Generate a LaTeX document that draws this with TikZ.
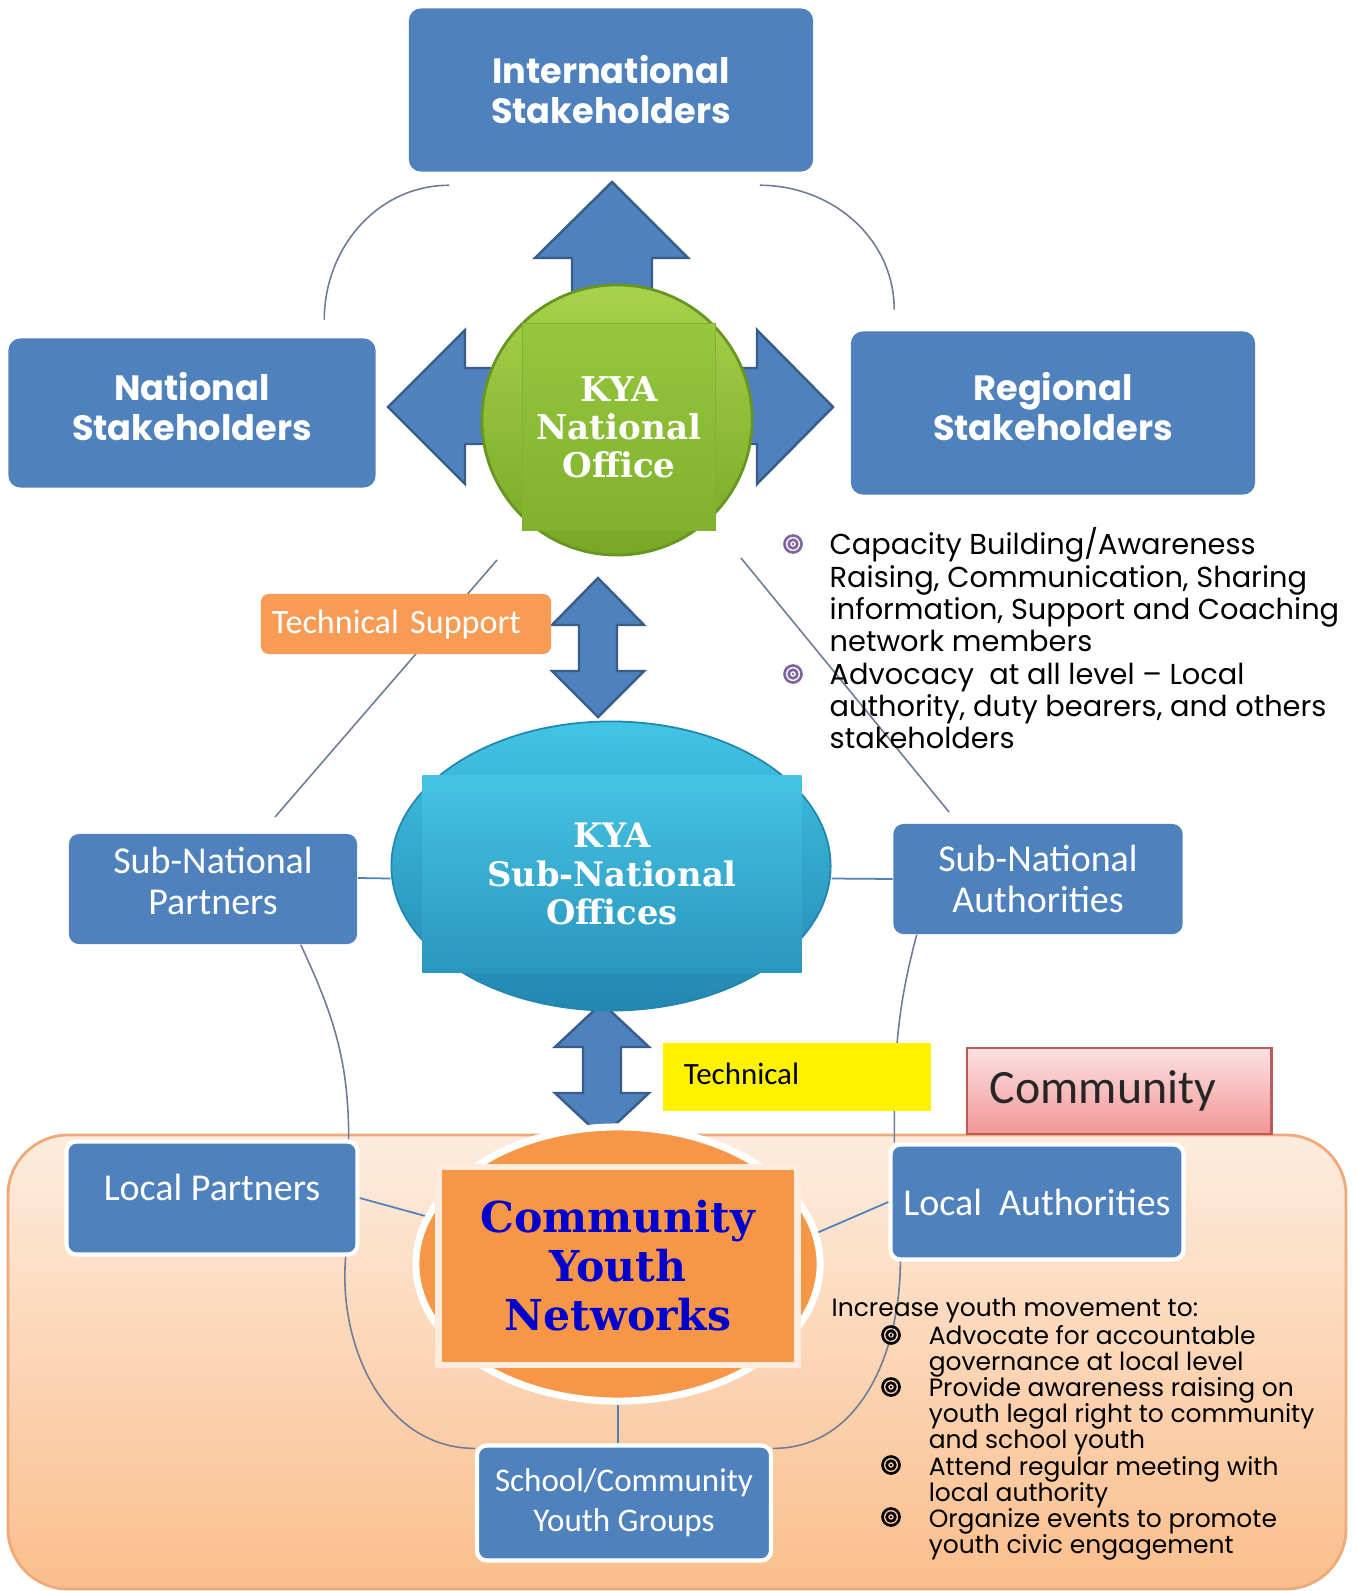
\documentclass[tikz,border=0pt]{standalone}
\usepackage{fontspec}
\newfontfamily\gothic{Poppins}
\newfontfamily\calib{Carlito}
\newfontfamily\kyaserif{DejaVu Serif}
\usepackage{tikz}
\usetikzlibrary{shapes.geometric,positioning}
\definecolor{boxblue}{RGB}{79,129,189}
\definecolor{arrowedge}{RGB}{56,93,138}
\definecolor{arcgrey}{RGB}{110,125,150}
\definecolor{leaflight}{RGB}{168,210,75}
\definecolor{leafdark}{RGB}{118,168,38}
\definecolor{leafedge}{RGB}{105,150,35}
\definecolor{squarelight}{RGB}{150,198,62}
\definecolor{squaredark}{RGB}{128,178,45}
\definecolor{teallight}{RGB}{66,196,228}
\definecolor{tealdark}{RGB}{34,135,176}
\definecolor{tealrecttop}{RGB}{70,195,226}
\definecolor{tealrectbot}{RGB}{42,150,190}
\definecolor{cynorange}{RGB}{247,150,70}
\definecolor{cynrim}{RGB}{253,236,222}
\definecolor{cynblue}{RGB}{0,0,204}
\definecolor{supportorange}{RGB}{247,155,85}
\definecolor{paneltop}{RGB}{253,236,222}
\definecolor{panelbot}{RGB}{250,190,140}
\definecolor{paneledge}{RGB}{238,170,120}
\definecolor{pinklight}{RGB}{252,226,226}
\definecolor{pinkdeep}{RGB}{242,150,150}
\definecolor{pinkedge}{RGB}{192,90,90}
\definecolor{bulletpurple}{RGB}{128,100,162}
\tikzstyle{stake} = [rectangle, rounded corners=0.12cm, fill=boxblue, text=white, align=center, font=\gothic\bfseries\fontsize{10}{11.4}\selectfont]
\tikzstyle{partner} = [rectangle, rounded corners=0.1cm, fill=boxblue, text=white, align=center, font=\calib\fontsize{10.8}{11.6}\selectfont]
\tikzstyle{blockarrow} = [fill=boxblue, draw=arrowedge, line width=0.7pt, line join=miter]
\tikzstyle{cycleline} = [draw=arcgrey, line width=0.45pt]
\tikzstyle{spoke} = [draw=boxblue, line width=0.5pt]
% ring bullet
\newcommand{\tgtbullet}[3]{%
  \draw[#3, line width=0.75pt] (#1,#2) circle (0.085cm) (#1,#2) circle (0.043cm);
  \fill[#3] (#1,#2) circle (0.014cm);}

\begin{document}
\begin{tikzpicture}[x=0.01cm, y=-0.01cm]
		\useasboundingbox (0,0) rectangle (1356,1591);
		\fill[white] (0,0) rectangle (1356,1591);
		\coordinate (intl) at (611,90);
		\coordinate (natl) at (192,413);
		\coordinate (regl) at (1053,413);
		\coordinate (natoff) at (617,420);
		\coordinate (natsq) at (619,427);
		\coordinate (techsup) at (406,624);
		\coordinate (subell) at (611,866);
		\coordinate (subrect) at (612,874);
		\coordinate (snpart) at (213,889);
		\coordinate (snauth) at (1038,879);
		\coordinate (techbox) at (797,1077);
		\coordinate (commbox) at (1119,1091);
		\coordinate (cynell) at (618,1264);
		\coordinate (cynrect) at (618,1266);
		\coordinate (locpart) at (212,1198);
		\coordinate (locauth) at (1037,1202);
		\coordinate (school) at (624,1503);
		\coordinate (diagl1) at (497,560);
		\coordinate (diagl2) at (275,817);
		\coordinate (diagr1) at (741,558);
		\coordinate (diagr2) at (949,812);
		% Community area
		\draw[rounded corners=0.6cm, top color=paneltop, bottom color=panelbot, draw=paneledge, line width=0.8pt] (8,1135) rectangle (1346,1589);
		% Diagonals
		\draw[cycleline] (diagl1) -- (diagl2);
		\draw[cycleline] (diagr1) -- (diagr2);
		% Block arrows round the national office
		\draw[blockarrow] (572,420) -- (572,258) -- (535,258) -- (612,182) -- (688,258) -- (652,258) -- (652,420) -- cycle;
		\draw[blockarrow] (617,368) -- (465,368) -- (465,330) -- (388,407) -- (465,484) -- (465,444) -- (617,444) -- cycle;
		\draw[blockarrow] (617,368) -- (757,368) -- (757,330) -- (833,407) -- (757,484) -- (757,444) -- (617,444) -- cycle;
		\draw[blockarrow] (579,625) -- (552,625) -- (598,578) -- (644,625) -- (617,625) -- (617,671) -- (644,671) -- (598,717) -- (552,671) -- (579,671) -- cycle;
		\draw[blockarrow] (583,1047) -- (555,1047) -- (602,1003) -- (649,1047) -- (621,1047) -- (621,1093) -- (649,1093) -- (602,1137) -- (555,1093) -- (583,1093) -- cycle;
		% Stakeholders
		\begin{scope}[every node/.style={stake}]
		\node[name=intl, minimum width=4.04cm, minimum height=1.63cm] at (intl) {International\\Stakeholders};
		\node[name=natl, minimum width=3.67cm, minimum height=1.49cm, text depth=0.14cm] at (natl) {National\\Stakeholders};
		\node[name=regl, minimum width=4.04cm, minimum height=1.63cm, text depth=0.14cm] at (regl) {Regional\\Stakeholders};
		\end{scope}
		% National office
		\node[name=natoff, circle, minimum size=2.7cm, top color=leaflight, bottom color=leafdark, draw=leafedge, line width=0.8pt] at (natoff) {};
		\node[name=natsq, minimum width=1.93cm, minimum height=2.07cm, top color=squarelight, bottom color=squaredark, draw=leafedge!45!squarelight, line width=0.5pt, text=white, align=center, font=\kyaserif\bfseries\fontsize{9.7}{10.8}\selectfont] at (natsq) {KYA\\National\\Office};
		\draw[cycleline] ([xshift=0.41cm,yshift=-0.13cm]intl.south west) to[out=180,in=90] ([xshift=-0.52cm,yshift=0.18cm]natl.north east);
		\draw[cycleline] ([xshift=-0.54cm,yshift=-0.13cm]intl.south east) to[out=0,in=90] ([xshift=0.44cm,yshift=0.21cm]regl.north west);
		% Sub-national offices
		\node[name=subell, ellipse, minimum width=4.39cm, minimum height=2.89cm, top color=teallight, bottom color=tealdark, draw=tealdark, line width=0.5pt] at (subell) {};
		\node[name=subrect, minimum width=3.79cm, minimum height=1.96cm, top color=tealrecttop, bottom color=tealrectbot, text=white, align=center, font=\kyaserif\bfseries\fontsize{9.6}{11}\selectfont] at (subrect) {KYA\\Sub-National\\Offices};
		% Partners and authorities
		\begin{scope}[every node/.style={partner}]
		\node[name=snpart, minimum width=2.88cm, minimum height=1.10cm, text depth=0.16cm] at (snpart) {Sub-National\\Partners};
		\node[name=snauth, minimum width=2.89cm, minimum height=1.10cm] at (snauth) {Sub-National\\Authorities};
		\end{scope}
		\begin{scope}[every node/.style={partner, draw=white, line width=1.2pt}]
		\node[name=locpart, minimum width=2.91cm, minimum height=1.13cm, text depth=0.22cm] at (locpart) {Local Partners};
		\node[name=locauth, minimum width=2.93cm, minimum height=1.15cm] at (locauth) {Local\ \ Authorities};
		\node[name=school, minimum width=2.94cm, minimum height=1.15cm, font=\calib\fontsize{9.4}{11.3}\selectfont] at (school) {School/Community\\Youth Groups};
		\end{scope}
		% Community youth networks
		\node[name=cynell, ellipse, minimum width=4.04cm, minimum height=2.74cm, fill=cynorange, draw=white, line width=2pt] at (cynell) {};
		\node[name=cynrect, minimum width=3.59cm, minimum height=1.98cm, fill=cynorange, draw=cynrim, line width=1.8pt, text=cynblue, align=center, font=\kyaserif\bfseries\fontsize{12.1}{13.9}\selectfont] at (cynrect) {Community\\Youth\\Networks};
		% Cycle lines
		\draw[cycleline] ([xshift=-0.57cm]snpart.south east) to[out=-65,in=90] ([xshift=-0.11cm]locpart.north east);
		\draw[cycleline] ([xshift=0.24cm]snauth.south west) to[out=-105,in=90] ([xshift=0.06cm]locauth.north west);
		\draw[cycleline] ([xshift=-0.14cm]locpart.south east) to[out=-95,in=180] ([yshift=-0.05cm]school.north west);
		\draw[cycleline] ([xshift=0.12cm]locauth.south west) to[out=-90,in=0] ([yshift=-0.05cm]school.north east);
		\draw[spoke] ([yshift=0.11cm]snpart.east) -- ([yshift=-0.125cm]subell.west);
		\draw[spoke] ([yshift=-0.125cm]subell.east) -- (snauth.west);
		\draw[spoke] (locpart.east) -- (cynell.166);
		\draw[spoke] (locauth.west) -- (cynell.9);
		\draw[spoke] (cynell.south) -- (cynell.south |- school.north);
		% Labels
		\node[name=techsup, fill=supportorange, rounded corners=0.08cm, text=white, text width=2.68cm, inner xsep=0.11cm, minimum height=0.60cm, align=left, font=\calib\fontsize{9.7}{11}\selectfont] at (techsup) {Technical Support};
		\node[name=techbox, fill=yellow, text width=2.26cm, inner xsep=0.21cm, minimum height=0.68cm, text depth=0.06cm, align=left, font=\calib\fontsize{8.8}{10}\selectfont] at (techbox) {Technical};
		\node[name=commbox, top color=pinklight, bottom color=pinkdeep, draw=pinkedge, line width=0.8pt, text width=2.58cm, inner xsep=0.23cm, minimum height=0.86cm, align=left, text=black!85, font=\calib\fontsize{13.6}{15}\selectfont] at (commbox) {Community};
		% Task lists
		\node[name=nattasks, anchor=north west, inner sep=0, align=left, font=\gothic\fontsize{8.2}{9.2}\selectfont] at (829,527) {Capacity Building/Awareness\\Raising, Communication, Sharing\\information, Support and Coaching\\network members\\Advocacy\ \ at all level – Local\\authority, duty bearers, and others\\stakeholders};
		\foreach \ly in {544,674} \tgtbullet{793}{\ly}{bulletpurple};
		\node[name=cyntasks, anchor=north west, inner sep=0, align=left, font=\gothic\fontsize{7.1}{7.43}\selectfont] at (831,1297) {Increase youth movement to:\\[0.6pt]
			\hspace*{0.97cm}Advocate for accountable\\
			\hspace*{0.97cm}governance at local level\\
			\hspace*{0.97cm}Provide awareness raising on\\
			\hspace*{0.97cm}youth legal right to community\\
			\hspace*{0.97cm}and school youth\\
			\hspace*{0.97cm}Attend regular meeting with\\
			\hspace*{0.97cm}local authority\\
			\hspace*{0.97cm}Organize events to promote\\
			\hspace*{0.97cm}youth civic engagement};
		\foreach \ly in {1335,1387,1465,1517} \tgtbullet{891}{\ly}{black};
\end{tikzpicture}
\end{document}
